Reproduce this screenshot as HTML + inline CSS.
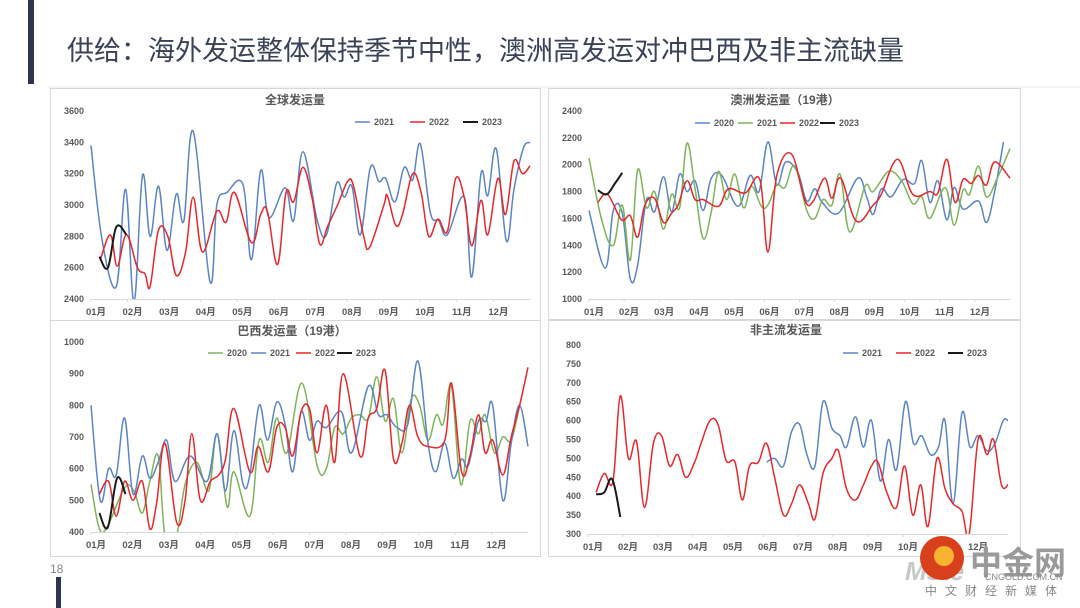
<!DOCTYPE html>
<html><head><meta charset="utf-8">
<style>
body{margin:0;background:#fff;}
#root{position:relative;width:1080px;height:608px;overflow:hidden;background:#fff;font-family:"Liberation Sans","Noto Sans CJK SC",sans-serif;}
svg text{font-family:"Liberation Sans","Noto Sans CJK SC",sans-serif;}
</style></head>
<body>
<div id="root">
<svg id="svg" width="1080" height="608" viewBox="0 0 1080 608">
  <rect x="28" y="0" width="6" height="84" fill="#2f3550"/>
  <text x="67" y="60" font-size="27" fill="#3a4258">供给：海外发运整体保持季节中性，澳洲高发运对冲巴西及非主流缺量</text>
  <line x1="48" y1="87" x2="1080" y2="87" stroke="#eeeeee"/>
  <text x="50" y="573" font-size="12" fill="#888">18</text>
  <rect x="56" y="577" width="5" height="31" fill="#2f3550"/>
  <g id="charts"></g>
  <g>
    <text x="905" y="580" font-size="26" font-weight="bold" font-style="italic" fill="#c8c8c8">Mste</text>
    <circle cx="942" cy="558" r="22" fill="#d8401c"/>
    <circle cx="944" cy="556" r="10" fill="#f6b430"/>
    <text x="970" y="574" font-size="32" font-weight="bold" fill="#9a9a9a">中金网</text>
    <text x="985" y="580" font-size="9" fill="#888">CNGOLD.COM.CN</text>
    <text x="925" y="595" font-size="12" fill="#888" letter-spacing="8">中文财经新媒体</text>
  </g>
</svg>
</div>
<script>
// ---------- Chart 1: 全球发运量 ----------
const c1Ticks = [2400, 2600, 2800, 3000, 3200, 3400, 3600];
const c1W2021 = [0,1.3,3.0,4.1,5.1,6.1,7.0,8.0,9.0,10.1,11.0,12.1,14.1,14.9,16.1,18.0,19.0,20.1,21.1,23.0,24.0,25.1,26.8,27.9,29.1,30.0,30.9,31.9,33.1,34.1,34.9,36.0,37.1,38.1,39.0,40.2,41.2,42.2,44.2,45.1,46.2,47.0,48.0,49.2,50.1,51.2,52];
const c1V2021 = [3380,2780,2480,3100,2380,3190,2800,3120,2710,3070,2900,3470,2510,3000,3080,3130,2650,3220,2920,3110,2900,3340,2900,2810,3140,3050,3120,2810,3240,3150,3170,3020,3240,3160,3390,2950,2900,2810,3050,2540,3200,3060,3360,2770,3100,3360,3400];
const c1W2022 = [1.1,2.3,3.1,4.2,5.5,6.4,7.0,8.0,9.1,10.1,11.2,12.1,13.2,14.9,16.0,17.0,19.0,20.1,20.9,22.1,23.1,24.0,25.1,26.2,27.1,28.0,29.2,30.4,31.1,32.3,33.0,34.7,35.1,36.1,36.9,38.1,39.1,40.0,41.1,42.2,43.2,44.2,45.1,46.2,47.0,48.2,49.1,50.1,51.1,52];
const c1V2022 = [2650,2810,2610,2810,2600,2560,2480,2840,2800,2550,2700,3050,2700,2960,2890,3080,2760,2940,2960,2620,3080,3020,3240,3040,2750,2860,3000,3150,3120,2800,2730,3000,3060,2870,2940,3200,3080,2800,2910,2830,3170,3050,2740,3030,2810,3170,2940,3280,3200,3250];
const c1W2023 = [1.0,2.0,3.0,4.2];
const c1V2023 = [2670,2600,2860,2810];

// ---------- Chart 2: 澳洲发运量 ----------
const c2Ticks = [1000,1200,1400,1600,1800,2000,2200,2400];
const c2W2020 = [0,2.0,3.0,4.1,5.1,6.0,7.1,8.1,9.2,10.2,11.2,12.1,13.1,14.1,15.1,16.4,18.4,19.9,21.0,22.1,23.2,24.3,25.8,26.9,27.9,28.8,30.8,33.2,34.3,35.1,36.1,37.3,38.8,40.2,41.1,42.1,43.1,44.2,45.1,46.2,48.1,49.1,50.1,51.2];
const c2V2020 = [1660,1230,1660,1640,1150,1250,1740,1650,1910,1650,1930,1800,1880,1660,1900,1920,1690,1920,1800,2170,1850,2020,1940,1730,1820,1720,1640,1900,1760,1630,1820,1760,1890,1860,2030,1720,1880,1590,1830,1670,1730,1570,1800,2170];
const c2W2021 = [0,1.6,3.0,4.1,5.1,6.0,7.1,8.1,9.2,10.2,11.2,12.1,13.1,14.1,15.1,16.0,17.0,18.0,19.1,20.1,21.3,22.1,23.2,24.2,25.4,26.9,27.9,28.9,30.0,31.0,32.2,34.1,35.1,37.0,38.6,40.0,41.1,42.1,44.0,45.1,46.2,47.0,48.1,49.1,50.5,52];
const c2V2021 = [2050,1580,1400,1700,1290,1960,1680,1800,1520,1780,1680,2160,1820,1450,1650,1950,1740,1930,1680,1840,1690,1700,1850,1830,1990,1660,1600,1740,1700,1930,1500,1840,1800,1950,1880,1710,1760,1600,1830,1550,1810,1780,1990,1760,1910,2120];
const c2W2022 = [1.1,2.3,4.0,5.1,6.0,6.9,8.1,9.2,10.2,11.0,12.1,13.1,14.1,16.0,17.2,19.3,21.1,22.1,23.2,25.0,26.7,27.7,29.1,30.0,31.1,33.0,35.1,36.1,38.1,40.0,42.1,43.1,44.2,45.2,46.2,47.2,48.1,49.1,50.1,52];
const c2V2022 = [1720,1780,1590,1620,1460,1700,1750,1570,1640,1700,1880,1740,1740,1690,1820,1790,1890,1350,1920,2080,1730,1730,1900,1750,1900,1580,1700,1780,2040,1780,1800,1790,2040,1720,1890,1860,1920,1850,2020,1900];
const c2W2023 = [1.1,2.2,3.2,4.1];
const c2V2023 = [1810,1780,1860,1940];

// ---------- Chart 3: 巴西发运量 ----------
const c3Ticks = [400,500,600,700,800,900,1000];
const c3W2020 = [0,1.0,2.0,4.0,5.1,6.1,7.0,8.0,8.8,10.1,11.2,12.6,14.0,15.0,16.2,17.0,18.9,20.0,21.1,22.1,23.3,25.1,26.9,28.0,29.0,30.0,31.0,32.0,33.0,34.0,35.0,36.0,37.0,38.1,39.1,40.1,41.1,41.9,42.9,44.0,45.1,46.1,46.9,48.0,49.0,50.0,51.0];
const c3V2020 = [550,410,420,540,530,460,560,640,390,380,550,620,530,710,480,590,450,690,620,760,650,870,610,600,730,710,760,770,760,890,750,820,650,820,800,690,770,740,860,550,750,710,770,650,700,690,800];
const c3W2021 = [0,1.1,2.1,3.0,4.0,5.0,6.1,7.0,8.0,9.0,10.0,11.8,13.8,15.0,16.0,17.0,18.1,18.9,20.0,21.0,22.1,23.1,24.0,25.0,26.0,26.9,28.0,29.8,31.0,33.0,34.2,35.2,36.4,37.7,38.9,40.1,41.0,42.1,43.1,44.1,44.9,46.1,47.0,47.8,49.0,50.0,51.0,52.0];
const c3V2021 = [800,500,600,580,760,520,640,570,620,690,560,640,560,710,530,720,550,580,800,690,810,740,590,780,690,750,730,780,650,860,770,770,730,740,940,680,590,680,570,630,610,750,750,800,500,680,800,670];
const c3W2022 = [1.0,2.1,3.0,4.0,5.0,6.1,7.0,7.8,8.8,10.2,11.2,12.0,13.0,14.2,15.2,16.0,17.0,18.9,19.9,21.1,22.1,23.1,24.0,25.0,26.0,26.9,28.0,29.0,30.0,32.0,33.0,34.0,35.0,36.0,37.0,37.9,38.9,40.1,42.1,42.9,44.1,45.1,46.1,46.9,47.8,49.0,50.0,51.0,52.0];
const c3V2022 = [520,560,450,560,500,560,410,490,680,430,500,710,500,560,580,630,790,590,670,590,730,730,640,780,790,650,800,620,900,640,760,790,910,630,680,800,700,670,690,870,590,640,770,650,690,580,700,800,920];
const c3W2023 = [1.0,2.0,3.1,4.1];
const c3V2023 = [460,415,570,520];

// ---------- Chart 4: 非主流发运量 ----------
const c4Ticks = [300,350,400,450,500,550,600,650,700,750,800];
const c4W2021 = [22.1,23.1,24.2,25.2,26.2,27.1,28.1,29.1,30.2,31.2,32.0,33.1,34.1,35.1,36.2,37.2,38.2,39.3,40.3,41.3,42.4,43.4,44.2,45.2,46.3,47.3,48.3,49.4,50.4,51.4,52];
const c4V2021 = [490,500,480,570,590,510,480,650,580,560,530,610,530,600,440,550,470,650,540,560,510,530,600,380,620,530,560,520,540,600,600];
const c4W2022 = [1.0,2.0,3.1,4.0,5.0,6.0,7.0,8.1,9.1,10.1,11.1,12.1,13.2,14.0,15.1,16.1,17.1,18.2,19.1,20.0,21.1,22.1,23.1,24.2,25.2,26.2,27.3,28.1,29.1,30.2,31.0,32.0,33.1,34.1,35.1,35.9,37.0,38.2,39.2,40.2,41.2,42.1,43.2,44.2,45.2,46.3,47.2,48.3,49.4,50.2,51.2,52];
const c4V2022 = [410,460,440,665,500,545,370,540,560,480,510,450,490,540,600,590,495,490,390,480,490,540,450,350,380,430,380,340,460,500,520,420,390,430,480,490,410,370,480,350,430,320,500,420,380,360,300,550,510,550,430,430];
const c4W2023 = [1.0,2.0,3.0,4.0];
const c4V2023 = [405,410,445,345];

const months = ["01月","02月","03月","04月","05月","06月","07月","08月","09月","10月","11月","12月"];

const NS = "http://www.w3.org/2000/svg";
const root = document.getElementById("charts");
function mk(tag, attrs, parent){
  const e = document.createElementNS(NS, tag);
  for (const k in attrs) e.setAttribute(k, attrs[k]);
  (parent||root).appendChild(e);
  return e;
}
function smooth(pts){
  if (pts.length < 2) return "";
  let d = "M" + pts[0][0].toFixed(1) + "," + pts[0][1].toFixed(1);
  for (let i = 0; i < pts.length - 1; i++){
    const p0 = pts[i-1] || pts[i], p1 = pts[i], p2 = pts[i+1], p3 = pts[i+2] || p2;
    const t = 0.18;
    const c1x = p1[0] + (p2[0]-p0[0])*t, c1y = p1[1] + (p2[1]-p0[1])*t;
    const c2x = p2[0] - (p3[0]-p1[0])*t, c2y = p2[1] - (p3[1]-p1[1])*t;
    d += " C" + c1x.toFixed(1)+","+c1y.toFixed(1)+" "+c2x.toFixed(1)+","+c2y.toFixed(1)+" "+p2[0].toFixed(1)+","+p2[1].toFixed(1);
  }
  return d;
}
let clipId = 0;
function drawChart(cfg){
  const g = mk("g", {});
  
  
  const frame = mk("rect", {x:cfg.box[0]+0.5, y:cfg.box[1]+0.5, width:cfg.box[2], height:cfg.box[3], fill:"#fff", stroke:"#d9d9d9"}, g);
  
  
  const [x0,x1,yTop,yBot] = cfg.plot;
  const ymin = cfg.ticks[0], ymax = cfg.ticks[cfg.ticks.length-1];
  const xs = w => x0 + w/52*(x1-x0);
  const ys = v => yBot - (v-ymin)/(ymax-ymin)*(yBot-yTop);
  const title = mk("text", {x:cfg.titleX, y:cfg.titleY, "font-size":12, "font-weight":"bold", fill:"#595959", "text-anchor":"middle"}, g);
  title.textContent = cfg.title;
  
  
  cfg.ticks.forEach(t => {
    const tl = mk("text", {x:x0-7, y:ys(t)+3, "font-size":9, "font-weight":"bold", fill:"#595959", "text-anchor":"end"}, g);
    tl.textContent = t;
    
    
  });
  const ax = mk("line", {x1:x0, y1:yBot+0.5, x2:x1, y2:yBot+0.5, stroke:"#d9d9d9"}, g);
  
  
  const step = (x1-x0)/12;
  months.forEach((m,i) => {
    const tk = mk("line", {x1:x0+i*step, y1:yBot, x2:x0+i*step, y2:yBot+3, stroke:"#d9d9d9"}, g);
    
    
    const ml = mk("text", {x:x0+i*step+5, y:yBot+16, "font-size":9.5, "font-weight":"bold", fill:"#595959", "text-anchor":"middle"}, g);
    ml.textContent = m;
    
    
  });
  const cid = "clip" + (clipId++);
  const cp = mk("clipPath", {id:cid}, g);
  mk("rect", {x:x0-2, y:yTop-20, width:x1-x0+4, height:yBot-yTop+20}, cp);
  cfg.series.forEach(s => {
    const pts = s.w.map((w,i) => [xs(w), ys(s.v[i])]);
    const p = mk("path", {d:smooth(pts), fill:"none", stroke:s.color, "stroke-width":s.width||1.5, "clip-path":"url(#"+cid+")"}, g);
    
    
  });
  cfg.series.forEach((s, i) => {
    const lx = cfg.legend[i];
    const ll = mk("line", {x1:lx, y1:cfg.legendY-3, x2:lx+15, y2:cfg.legendY-3, stroke:s.color, "stroke-width":s.width||1.5}, g);
    
    
    const lt = mk("text", {x:lx+19, y:cfg.legendY, "font-size":9, "font-weight":"bold", fill:"#595959"}, g);
    lt.textContent = s.label;
    
    
  });
}
const BLUE="#5b84c4", RED="#e8262b", GREEN="#7fb35a", BLACK="#1a1a1a";
drawChart({name:"global-shipments-chart", box:[50,88,490,232], plot:[91,530,111,299], ticks:c1Ticks, title:"全球发运量", titleX:295, titleY:104, legendY:125, legend:[355,410,463],
  series:[{label:"2021",w:c1W2021,v:c1V2021,color:BLUE},{label:"2022",w:c1W2022,v:c1V2022,color:RED},{label:"2023",w:c1W2023,v:c1V2023,color:BLACK,width:2}]});
drawChart({name:"australia-shipments-chart", box:[548,88,472,231], plot:[589,1010,111,299], ticks:c2Ticks, title:"澳洲发运量（19港）", titleX:785, titleY:104, legendY:126, legend:[695,738,780,820],
  series:[{label:"2020",w:c2W2020,v:c2V2020,color:BLUE},{label:"2021",w:c2W2021,v:c2V2021,color:GREEN},{label:"2022",w:c2W2022,v:c2V2022,color:RED},{label:"2023",w:c2W2023,v:c2V2023,color:BLACK,width:2}]});
drawChart({name:"brazil-shipments-chart", box:[50,320,490,236], plot:[91,528,342,532], ticks:c3Ticks, title:"巴西发运量（19港）", titleX:292, titleY:335, legendY:356, legend:[208,251,296,337],
  series:[{label:"2020",w:c3W2020,v:c3V2020,color:GREEN},{label:"2021",w:c3W2021,v:c3V2021,color:BLUE},{label:"2022",w:c3W2022,v:c3V2022,color:RED},{label:"2023",w:c3W2023,v:c3V2023,color:BLACK,width:2}]});
drawChart({name:"non-mainstream-shipments-chart", box:[548,320,472,236], plot:[588,1008,345,534], ticks:c4Ticks, title:"非主流发运量", titleX:786, titleY:334, legendY:356, legend:[843,896,948],
  series:[{label:"2021",w:c4W2021,v:c4V2021,color:BLUE},{label:"2022",w:c4W2022,v:c4V2022,color:RED},{label:"2023",w:c4W2023,v:c4V2023,color:BLACK,width:2}]});
</script>
</body></html>
